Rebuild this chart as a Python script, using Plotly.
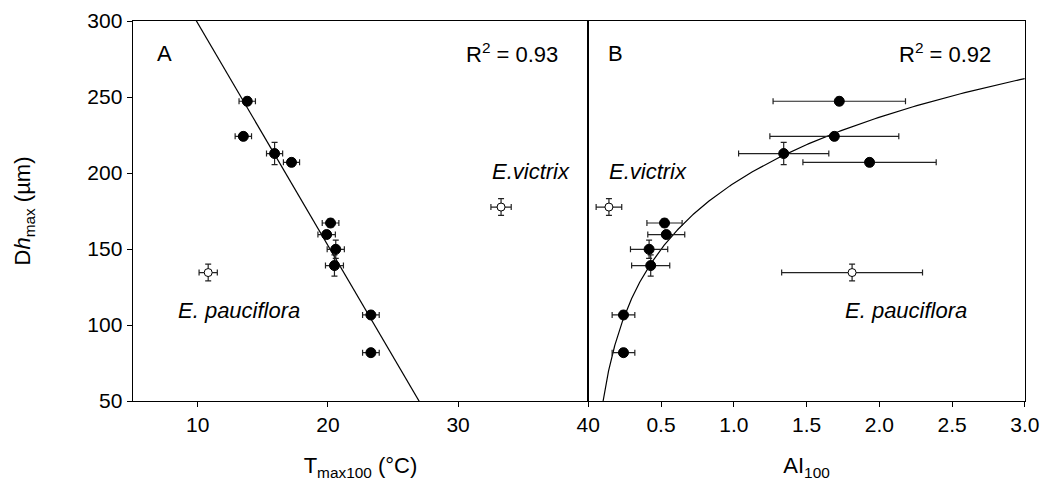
import numpy as np
import plotly.graph_objects as go

# ---- data ----
dh = [247.2, 224.1, 212.8, 207.0, 167.1, 159.5, 149.8, 139.1, 106.6, 81.8]
dh_err = [2.5, 2.5, 7.3, 2.5, 2.5, 2.5, 6.0, 7.0, 2.5, 2.5]

tmax = [13.8, 13.5, 15.9, 17.2, 20.2, 19.9, 20.6, 20.5, 23.3, 23.3]
tmax_err = [0.63, 0.63, 0.62, 0.62, 0.64, 0.67, 0.66, 0.69, 0.64, 0.64]

ai = [1.725, 1.691, 1.343, 1.933, 0.524, 0.536, 0.418, 0.429, 0.242, 0.242]
ai_err = [0.455, 0.443, 0.31, 0.458, 0.121, 0.127, 0.128, 0.131, 0.078, 0.078]

# outlier species: E. pauciflora, E. victrix
out_names = ["E. pauciflora", "E.victrix"]
out_dh = [134.5, 177.6]
out_dh_err = [5.5, 5.5]
out_tmax = [10.8, 33.3]
out_tmax_err = [0.7, 0.78]
out_ai = [1.813, 0.142]
out_ai_err = [0.484, 0.088]

# fits
lin_slope, lin_int = -14.62, 444.7        # panel A: Dh = a + b*T
log_a, log_b = 193.25, 62.67              # panel B: Dh = a + b*ln(AI)

FONT = "Liberation Sans, Arial, sans-serif"

fig = go.Figure()

def add_points(x, y, xe, ye, xa, ya, filled):
    fig.add_trace(go.Scatter(
        x=x, y=y, mode="markers", xaxis=xa, yaxis=ya, showlegend=False,
        error_x=dict(type="data", array=xe, visible=True, color="#222", thickness=1.2, width=3),
        error_y=dict(type="data", array=ye, visible=True, color="#222", thickness=1.2, width=3),
        marker=dict(size=10 if filled else 8,
                    color="black" if filled else "white",
                    line=dict(color="black", width=1)),
    ))

# panel A regression line
xl = np.linspace(5, 40, 200)
yl = lin_int + lin_slope * xl
fig.add_trace(go.Scatter(x=xl, y=yl, mode="lines", line=dict(color="black", width=1.2),
                         xaxis="x", yaxis="y", showlegend=False, hoverinfo="skip"))
add_points(tmax, dh, tmax_err, dh_err, "x", "y", True)
add_points(out_tmax, out_dh, out_tmax_err, out_dh_err, "x", "y", False)

# panel B log curve
xc = np.exp(np.linspace(np.log(0.1), np.log(3.0), 300))
yc = log_a + log_b * np.log(xc)
fig.add_trace(go.Scatter(x=xc, y=yc, mode="lines", line=dict(color="black", width=1.2),
                         xaxis="x2", yaxis="y2", showlegend=False, hoverinfo="skip"))
add_points(ai, dh, ai_err, dh_err, "x2", "y2", True)
add_points(out_ai, out_dh, out_ai_err, out_dh_err, "x2", "y2", False)

W, H = 1062, 486
axis_common = dict(showline=True, linecolor="black", linewidth=1.2, mirror=True,
                   showgrid=False, zeroline=False, ticks="outside", ticklen=5,
                   tickwidth=1.2, tickcolor="black",
                   tickfont=dict(family=FONT, size=21, color="black"))

fig.update_layout(
    width=W, height=H,
    margin=dict(l=0, r=0, t=21, b=85),
    paper_bgcolor="white", plot_bgcolor="white",
    font=dict(family=FONT, size=21, color="black"),
    xaxis=dict(domain=[134.6 / W, 596.7 / W], range=[5, 40],
               tickvals=[10, 20, 30, 40], anchor="y",
               title=dict(text="T<sub>max100</sub> (°C)", standoff=22,
                          font=dict(family=FONT, size=22)),
               **axis_common),
    yaxis=dict(domain=[0, 1], range=[50, 300], tickvals=[50, 100, 150, 200, 250, 300],
               anchor="x",
               title=dict(text="D<i>h</i><sub>max</sub> (µm)", standoff=50,
                          font=dict(family=FONT, size=22)),
               **axis_common),
    xaxis2=dict(domain=[596.7 / W, 1039.5 / W], range=[0, 3.0],
                tickvals=[0.5, 1.0, 1.5, 2.0, 2.5, 3.0],
                ticktext=["0.5", "1.0", "1.5", "2.0", "2.5", "3.0"], anchor="y2",
                title=dict(text="AI<sub>100</sub>", standoff=22,
                           font=dict(family=FONT, size=22)),
                **axis_common),
    yaxis2=dict(domain=[0, 1], range=[50, 300], anchor="x2",
                showline=True, linecolor="black", linewidth=1.2, mirror=True,
                showgrid=False, zeroline=False, showticklabels=False, ticks=""),
)

ann_font = dict(family=FONT, size=22, color="black")
anns = [
    dict(x=6.72, y=278.7, xref="x", yref="y", text="A", xanchor="left"),
    dict(x=37.83, y=278.7, xref="x", yref="y", text="R<sup>2</sup> = 0.93", xanchor="right"),
    dict(x=32.45, y=201.1, xref="x", yref="y", text="<i>" + out_names[1] + "</i>", xanchor="left"),
    dict(x=8.31, y=109.7, xref="x", yref="y", text="<i>" + out_names[0] + "</i>", xanchor="left"),
    dict(x=0.124, y=278.7, xref="x2", yref="y2", text="B", xanchor="left"),
    dict(x=2.78, y=278.7, xref="x2", yref="y2", text="R<sup>2</sup> = 0.92", xanchor="right"),
    dict(x=0.131, y=201.1, xref="x2", yref="y2", text="<i>" + out_names[1] + "</i>", xanchor="left"),
    dict(x=1.752, y=109.7, xref="x2", yref="y2", text="<i>" + out_names[0] + "</i>", xanchor="left"),
]
for a in anns:
    a.update(showarrow=False, yanchor="middle", font=ann_font)
fig.update_layout(annotations=anns)

fig.write_html("out.html")
